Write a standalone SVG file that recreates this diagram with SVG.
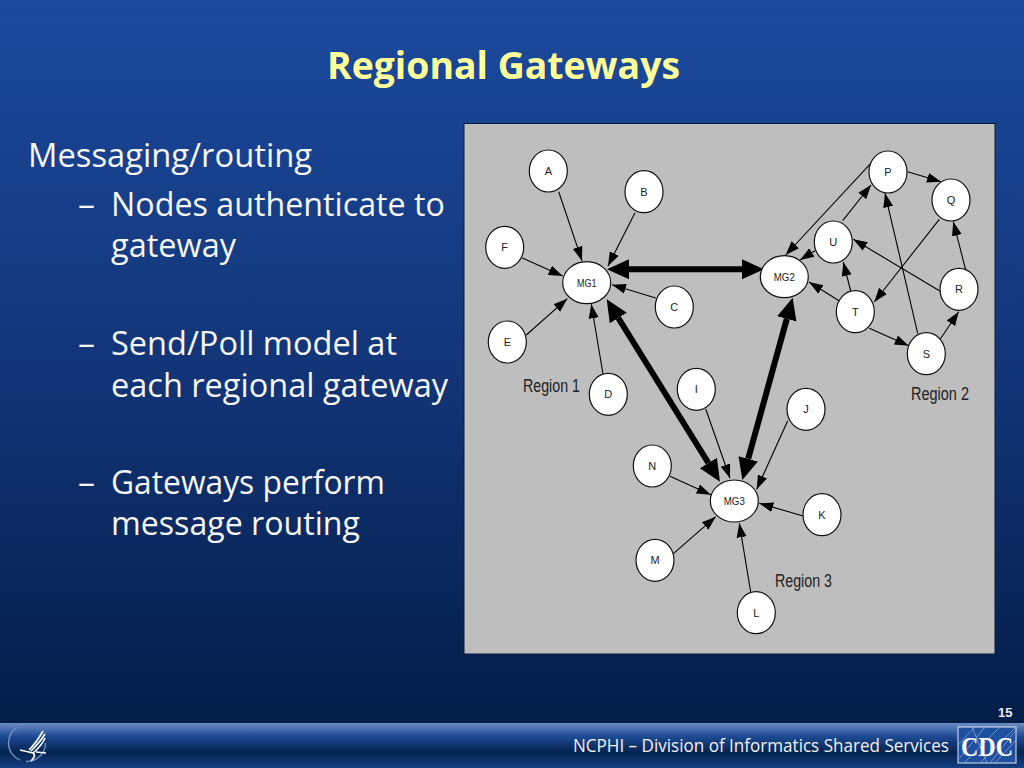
<svg xmlns="http://www.w3.org/2000/svg" width="1024" height="768" viewBox="0 0 1024 768">
<style>
.nd{fill:#fff;stroke:#111;stroke-width:1.2}
.lb{font:11px "Liberation Sans",Arial,sans-serif;fill:#222;text-anchor:middle}
.rg{font:18px "Liberation Sans",Arial,sans-serif;fill:#222}
.thin{stroke:#000;stroke-width:1.1;fill:none;marker-end:url(#ah)}
.thick{stroke:#000;stroke-width:6;fill:none;marker-start:url(#bh);marker-end:url(#bh)}
.body{font:32.500px "Open Sans","Noto Sans",sans-serif;fill:#f6f6f6}
</style>
<defs>
<linearGradient id="bg" x1="0" y1="0" x2="0" y2="1"><stop offset="0" stop-color="#1b4a9e"/><stop offset=".5" stop-color="#123476"/><stop offset="1" stop-color="#011a42"/></linearGradient>
<linearGradient id="bar" x1="0" y1="0" x2="0" y2="1"><stop offset="0" stop-color="#6a8cc4"/><stop offset=".3" stop-color="#1d4a94"/><stop offset=".65" stop-color="#05234f"/><stop offset="1" stop-color="#133f85"/></linearGradient>
<marker id="ah" markerUnits="userSpaceOnUse" markerWidth="15" markerHeight="12" refX="14" refY="6" orient="auto"><path d="M0 1L14 6L0 11z" fill="#000"/></marker>
<marker id="bh" markerUnits="userSpaceOnUse" markerWidth="23" markerHeight="22" refX="0" refY="11" orient="auto-start-reverse"><path d="M0 1L22 11L0 21z" fill="#000"/></marker>
</defs>
<rect width="1024" height="768" fill="url(#bg)"/>
<text x="327" y="79" textLength="353" lengthAdjust="spacingAndGlyphs" font-family="Open Sans,Noto Sans,sans-serif" font-weight="700" font-size="37" fill="#ffff99">Regional Gateways</text>
<g id="bullets" class="body">
<text x="28" y="167" textLength="284" lengthAdjust="spacingAndGlyphs">Messaging/routing</text>
<text x="78" y="216" textLength="17" lengthAdjust="spacingAndGlyphs">–</text><text x="111" y="216" textLength="334" lengthAdjust="spacingAndGlyphs">Nodes authenticate to</text>
<text x="111" y="257" textLength="125" lengthAdjust="spacingAndGlyphs">gateway</text>
<text x="78" y="355" textLength="17" lengthAdjust="spacingAndGlyphs">–</text><text x="111" y="355" textLength="286" lengthAdjust="spacingAndGlyphs">Send/Poll model at</text>
<text x="111" y="397" textLength="337" lengthAdjust="spacingAndGlyphs">each regional gateway</text>
<text x="78" y="494" textLength="17" lengthAdjust="spacingAndGlyphs">–</text><text x="111" y="494" textLength="274" lengthAdjust="spacingAndGlyphs">Gateways perform</text>
<text x="111" y="535" textLength="249" lengthAdjust="spacingAndGlyphs">message routing</text>
</g>
<rect x="464" y="123.500" width="531" height="530.500" fill="#bebebe" stroke="#0a1a3a"/>
<g id="connectors">
<path class="thin" d="M558.700 191.700L582 260.700"/>
<path class="thin" d="M635 212.700L608 266"/>
<path class="thin" d="M522.300 258L562.700 276"/>
<path class="thin" d="M526.300 335L567.300 298.700"/>
<path class="thin" d="M603 374L591.300 304.300"/>
<path class="thin" d="M655.700 298L612 284.700"/>
<path class="thin" d="M705.700 409L730 478.300"/>
<path class="thin" d="M787.700 420.700L756.700 489.300"/>
<path class="thin" d="M670 476.300L710.700 494.700"/>
<path class="thin" d="M673.700 553.300L715.700 516.700"/>
<path class="thin" d="M803.300 516L759.300 503.300"/>
<path class="thin" d="M750.700 592L739.300 523.300"/>
<path class="thin" d="M873.300 160.700L785.700 255"/>
<path class="thin" d="M842.700 220.700L871 185"/>
<path class="thin" d="M815 250.700L800 260"/>
<path class="thin" d="M839 300.700L809 282"/>
<path class="thin" d="M850.700 291L843.300 262"/>
<path class="thin" d="M869.300 328.300L908.700 345.700"/>
<path class="thin" d="M917.700 333.300L885 193.300"/>
<path class="thin" d="M940.300 339L958.700 311.700"/>
<path class="thin" d="M965.700 270L953.300 221.700"/>
<path class="thin" d="M940.300 291.300L853.300 239.300"/>
<path class="thin" d="M939.300 219.300L874.300 302"/>
<path class="thin" d="M907.700 171.700L941 181.700"/>
<path class="thick" d="M629 269.300L742 269.300"/>
<path class="thick" d="M618.300 318L708.400 463"/>
<path class="thick" d="M786.800 318.900L748.200 458.800"/>
</g>
<g id="MG1"><ellipse class="nd" cx="586.700" cy="282.700" rx="24" ry="21"/><text class="lb" x="586.700" y="286.500" textLength="19.500" lengthAdjust="spacingAndGlyphs">MG1</text></g>
<g id="MG2"><ellipse class="nd" cx="784.300" cy="276.700" rx="24" ry="21"/><text class="lb" x="784.300" y="280.500" textLength="21" lengthAdjust="spacingAndGlyphs">MG2</text></g>
<g id="MG3"><ellipse class="nd" cx="734.300" cy="501" rx="24" ry="21"/><text class="lb" x="734.300" y="505" textLength="21" lengthAdjust="spacingAndGlyphs">MG3</text></g>
<g id="A"><ellipse class="nd" cx="548.300" cy="171" rx="19" ry="21"/><text class="lb" x="548.300" y="175">A</text></g>
<g id="B"><ellipse class="nd" cx="644" cy="191.700" rx="19" ry="21"/><text class="lb" x="644" y="195.700">B</text></g>
<g id="C"><ellipse class="nd" cx="674.300" cy="307" rx="19" ry="21"/><text class="lb" x="674.300" y="311">C</text></g>
<g id="D"><ellipse class="nd" cx="608.300" cy="394.300" rx="19" ry="21"/><text class="lb" x="608.300" y="398.300">D</text></g>
<g id="E"><ellipse class="nd" cx="507.300" cy="342" rx="19" ry="21"/><text class="lb" x="507.300" y="346">E</text></g>
<g id="F"><ellipse class="nd" cx="504.700" cy="247.300" rx="19" ry="21"/><text class="lb" x="504.700" y="251.300">F</text></g>
<g id="I"><ellipse class="nd" cx="696.300" cy="389.300" rx="19" ry="21"/><text class="lb" x="696.300" y="393.300">I</text></g>
<g id="J"><ellipse class="nd" cx="806" cy="409.300" rx="19" ry="21"/><text class="lb" x="806" y="413.300">J</text></g>
<g id="K"><ellipse class="nd" cx="822" cy="514.700" rx="19" ry="21"/><text class="lb" x="822" y="518.700">K</text></g>
<g id="L"><ellipse class="nd" cx="756.300" cy="612.700" rx="19" ry="21"/><text class="lb" x="756.300" y="616.700">L</text></g>
<g id="M"><ellipse class="nd" cx="655" cy="560.300" rx="19" ry="21"/><text class="lb" x="655" y="564.300">M</text></g>
<g id="N"><ellipse class="nd" cx="652.300" cy="466" rx="19" ry="21"/><text class="lb" x="652.300" y="470">N</text></g>
<g id="P"><ellipse class="nd" cx="888" cy="172" rx="19" ry="21"/><text class="lb" x="888" y="176">P</text></g>
<g id="Q"><ellipse class="nd" cx="951" cy="200" rx="19" ry="21"/><text class="lb" x="951" y="204">Q</text></g>
<g id="R"><ellipse class="nd" cx="959" cy="289.300" rx="19" ry="21"/><text class="lb" x="959" y="293.300">R</text></g>
<g id="S"><ellipse class="nd" cx="926.300" cy="353.700" rx="19" ry="21"/><text class="lb" x="926.300" y="357.700">S</text></g>
<g id="T"><ellipse class="nd" cx="855.300" cy="311.700" rx="19" ry="21"/><text class="lb" x="855.300" y="315.700">T</text></g>
<g id="U"><ellipse class="nd" cx="833.300" cy="242" rx="19" ry="21"/><text class="lb" x="833.300" y="246">U</text></g>
<text class="rg" x="523" y="392" textLength="57" lengthAdjust="spacingAndGlyphs">Region 1</text>
<text class="rg" x="911" y="400" textLength="58" lengthAdjust="spacingAndGlyphs">Region 2</text>
<text class="rg" x="775" y="587" textLength="57" lengthAdjust="spacingAndGlyphs">Region 3</text>
<rect x="0" y="723" width="1024" height="45" fill="url(#bar)"/>
<text x="998" y="717" font-family="Liberation Sans,Arial,sans-serif" font-weight="700" font-size="13" fill="#eee">15</text>
<text x="573" y="752" textLength="376" lengthAdjust="spacingAndGlyphs" font-family="Open Sans,Noto Sans,sans-serif" font-size="17.500" fill="#f2f2f2">NCPHI – Division of Informatics Shared Services</text>
<g id="hhs" fill="none">
<circle cx="27" cy="743" r="18.500" stroke="#6f8fc0" stroke-width="1.400" stroke-dasharray="30 6 40 100"/>
<path d="M29 750C35 744 39 738 43 731M31 751C37 745 41 741 45 734M33 753C39 748 42 745 45 738M20 750L33 753C36 755 34 758 31 761M36 752L46 753" stroke="#fff" stroke-width="1.600"/>
</g>
<g id="cdc">
<rect x="958" y="727" width="58" height="36" fill="#1f4f9f" stroke="#dfe8f5"/>
<path d="M958 745L975 727M958 760L985 727M964 763L1000 727M980 763L1016 727M995 763L1016 740M972 727L987 763M1016 730L990 763" stroke="#8fb0dd" stroke-width=".7"/>
<text x="961" y="756" font-family="Liberation Serif,Times New Roman,serif" font-weight="700" font-size="28" textLength="52" lengthAdjust="spacingAndGlyphs" fill="#fff">CDC</text>
</g>
</svg>
